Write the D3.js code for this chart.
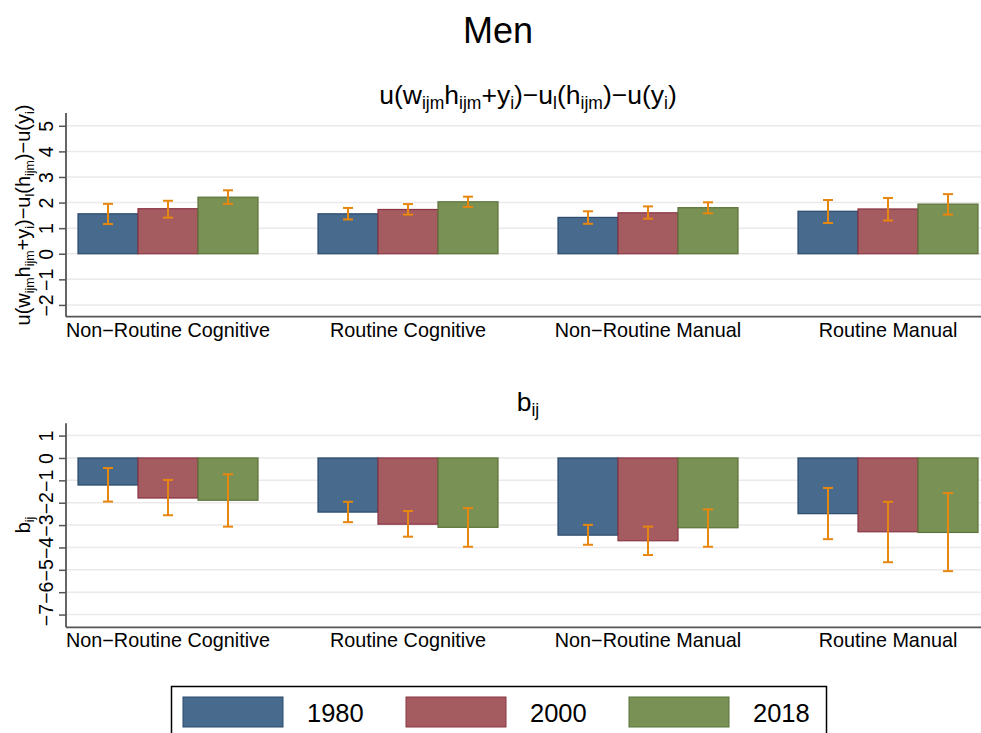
<!DOCTYPE html>
<html>
<head>
<meta charset="utf-8">
<script src="https://cdn.jsdelivr.net/npm/d3@7"></script>
<style>
  html, body { margin: 0; padding: 0; background: #fff; }
  svg { display: block; font-family: "Liberation Sans", Arial, Helvetica, sans-serif; }
</style>
</head>
<body>
<svg id="chart" width="981" height="733"></svg>
<script>
// Occupation groups and survey years
const categories = ["Non\u2212Routine Cognitive", "Routine Cognitive", "Non\u2212Routine Manual", "Routine Manual"];
const years = ["1980", "2000", "2018"];

// Panel 1: utility gain u(w h + y) - u_l(h) - u(y), point estimate with CI bounds
const utilMean1980 = [1.56, 1.56, 1.42, 1.66];
const utilLo1980   = [1.16, 1.34, 1.17, 1.20];
const utilHi1980   = [1.95, 1.79, 1.66, 2.10];
const utilMean2000 = [1.76, 1.73, 1.60, 1.75];
const utilLo2000   = [1.41, 1.53, 1.37, 1.30];
const utilHi2000   = [2.07, 1.94, 1.85, 2.18];
const utilMean2018 = [2.21, 2.03, 1.80, 1.94];
const utilLo2018   = [1.95, 1.83, 1.58, 1.53];
const utilHi2018   = [2.48, 2.23, 2.01, 2.33];

// Panel 2: b_ij estimates with CI bounds
const bMean1980 = [-1.21, -2.42, -3.45, -2.49];
const bLo1980   = [-1.95, -2.87, -3.88, -3.63];
const bHi1980   = [-0.45, -1.96, -2.99, -1.34];
const bMean2000 = [-1.79, -2.96, -3.70, -3.30];
const bLo2000   = [-2.56, -3.52, -4.34, -4.66];
const bHi2000   = [-0.98, -2.37, -3.07, -1.96];
const bMean2018 = [-1.89, -3.10, -3.12, -3.33];
const bLo2018   = [-3.07, -3.97, -3.97, -5.06];
const bHi2018   = [-0.73, -2.24, -2.30, -1.57];

// Axis ticks
const utilTicks = [-2, -1, 0, 1, 2, 3, 4, 5];
const bTicks = [-7, -6, -5, -4, -3, -2, -1, 0, 1];

const fills   = { "1980": "#486a8c", "2000": "#a45c60", "2018": "#7a9156" };
const strokes = { "1980": "#2b4a6d", "2000": "#8a3444", "2018": "#5a7338" };
const errColor = "#e8870e";

function rows(means, los, his) {
  const out = [];
  years.forEach((yr, k) => {
    categories.forEach((c, i) => {
      out.push({ cat: c, year: yr, v: means[k][i], lo: los[k][i], hi: his[k][i] });
    });
  });
  return out;
}

const utilData = rows([utilMean1980, utilMean2000, utilMean2018],
                      [utilLo1980, utilLo2000, utilLo2018],
                      [utilHi1980, utilHi2000, utilHi2018]);
const bData = rows([bMean1980, bMean2000, bMean2018],
                   [bLo1980, bLo2000, bLo2018],
                   [bHi1980, bHi2000, bHi2018]);

const svg = d3.select("#chart");
const left = 66, right = 990;

const x0 = d3.scaleBand().domain(categories).range([left, right])
  .paddingInner(0.25).paddingOuter(0.05);
const x1 = d3.scaleBand().domain(years).range([0, x0.bandwidth()]);

// Write text with subscript segments: parts = [[text, isSub], ...]
function richText(sel, parts, size, ratio) {
  parts.forEach(([t, sub]) => {
    const ts = sel.append("tspan").text(t);
    if (sub) {
      ts.attr("font-size", size * ratio).attr("baseline-shift", "-30%");
    }
  });
}

// Overall title
svg.append("text").attr("x", 498).attr("y", 43).attr("text-anchor", "middle")
  .attr("font-size", 36).attr("fill", "#000").text("Men");

function panel(opts) {
  const { data, domain, top, bottom, ticks, title, ylabel, titleY, ylabelY } = opts;
  const y = d3.scaleLinear().domain(domain).range([bottom, top]);
  const g = svg.append("g");

  // gridlines
  g.append("g").selectAll("line").data(ticks).join("line")
    .attr("x1", left).attr("x2", 981)
    .attr("y1", d => y(d)).attr("y2", d => y(d))
    .attr("stroke", "#eaeaea").attr("stroke-width", 1.5);

  // y axis
  const yAxis = d3.axisLeft(y).tickValues(ticks).tickSize(7).tickPadding(4)
    .tickFormat(d => d < 0 ? "\u2212" + Math.abs(d) : String(d));
  const ya = g.append("g").attr("transform", `translate(${left},0)`).call(yAxis);
  ya.select(".domain").attr("stroke", "#555").attr("stroke-width", 1.8)
    .attr("d", `M-0,${top}V${bottom}`);
  ya.selectAll(".tick line").attr("stroke", "#555").attr("stroke-width", 1.5);
  ya.selectAll(".tick text")
    .attr("font-size", 19.5).attr("fill", "#000")
    .attr("text-anchor", "middle").attr("dy", 0)
    .attr("transform", "translate(-13,0) rotate(-90)")
    .attr("x", 0).attr("y", 0);

  // x axis
  const xAxis = d3.axisBottom(x0).tickSize(0).tickPadding(6);
  const xa = g.append("g").attr("transform", `translate(0,${bottom})`).call(xAxis);
  xa.select(".domain").attr("stroke", "#555").attr("stroke-width", 1.8)
    .attr("d", `M${left},0H981`);
  xa.selectAll(".tick text").attr("font-size", 19.8).attr("fill", "#000").attr("dy", "0.71em");

  // bars
  g.append("g").selectAll("rect").data(data).join("rect")
    .attr("x", d => x0(d.cat) + x1(d.year))
    .attr("width", x1.bandwidth())
    .attr("y", d => Math.min(y(d.v), y(0)))
    .attr("height", d => Math.abs(y(d.v) - y(0)))
    .attr("fill", d => fills[d.year])
    .attr("stroke", d => strokes[d.year]).attr("stroke-width", 1.2);

  // error bars
  const cap = 5;
  const eg = g.append("g").selectAll("g").data(data).join("g")
    .attr("stroke", errColor).attr("stroke-width", 2);
  const cx = d => x0(d.cat) + x1(d.year) + x1.bandwidth() / 2;
  eg.append("line").attr("x1", cx).attr("x2", cx)
    .attr("y1", d => y(d.lo)).attr("y2", d => y(d.hi));
  eg.append("line").attr("x1", d => cx(d) - cap).attr("x2", d => cx(d) + cap)
    .attr("y1", d => y(d.lo)).attr("y2", d => y(d.lo));
  eg.append("line").attr("x1", d => cx(d) - cap).attr("x2", d => cx(d) + cap)
    .attr("y1", d => y(d.hi)).attr("y2", d => y(d.hi));

  // panel title
  const t = svg.append("text").attr("x", (left + right) / 2).attr("y", titleY)
    .attr("text-anchor", "middle").attr("font-size", 26.5).attr("fill", "#000");
  richText(t, title, 26.5, 0.66);

  // y label
  const yl = svg.append("text")
    .attr("transform", `translate(30,${ylabelY}) rotate(-90)`)
    .attr("text-anchor", "middle").attr("font-size", 20).attr("fill", "#000");
  richText(yl, ylabel, 20, 0.62);
}

const utilLabel = [["u(w", false], ["ijm", true], ["h", false], ["ijm", true], ["+y", false], ["i", true],
  [")\u2212u", false], ["l", true], ["(h", false], ["ijm", true], [")\u2212u(y", false], ["i", true], [")", false]];

panel({
  data: utilData, domain: [-2.46, 5.5], top: 113, bottom: 316.7, ticks: utilTicks,
  title: utilLabel, ylabel: utilLabel, titleY: 104, ylabelY: 215
});

panel({
  data: bData, domain: [-7.57, 1.55], top: 423.3, bottom: 627.3, ticks: bTicks,
  title: [["b", false], ["ij", true]], ylabel: [["b", false], ["ij", true]], titleY: 411, ylabelY: 525
});

// Legend
const legend = svg.append("g");
legend.append("rect").attr("x", 171.5).attr("y", 686.5).attr("width", 655).attr("height", 60)
  .attr("fill", "#fff").attr("stroke", "#000").attr("stroke-width", 1.5);
const legX = d3.scaleOrdinal().domain(years).range([183, 406, 629]);
years.forEach(yr => {
  legend.append("rect").attr("x", legX(yr)).attr("y", 697).attr("width", 100).attr("height", 30)
    .attr("fill", fills[yr]).attr("stroke", strokes[yr]).attr("stroke-width", 1);
  legend.append("text").attr("x", legX(yr) + 124).attr("y", 722)
    .attr("font-size", 25.5).attr("fill", "#000").text(yr);
});
</script>
</body>
</html>
